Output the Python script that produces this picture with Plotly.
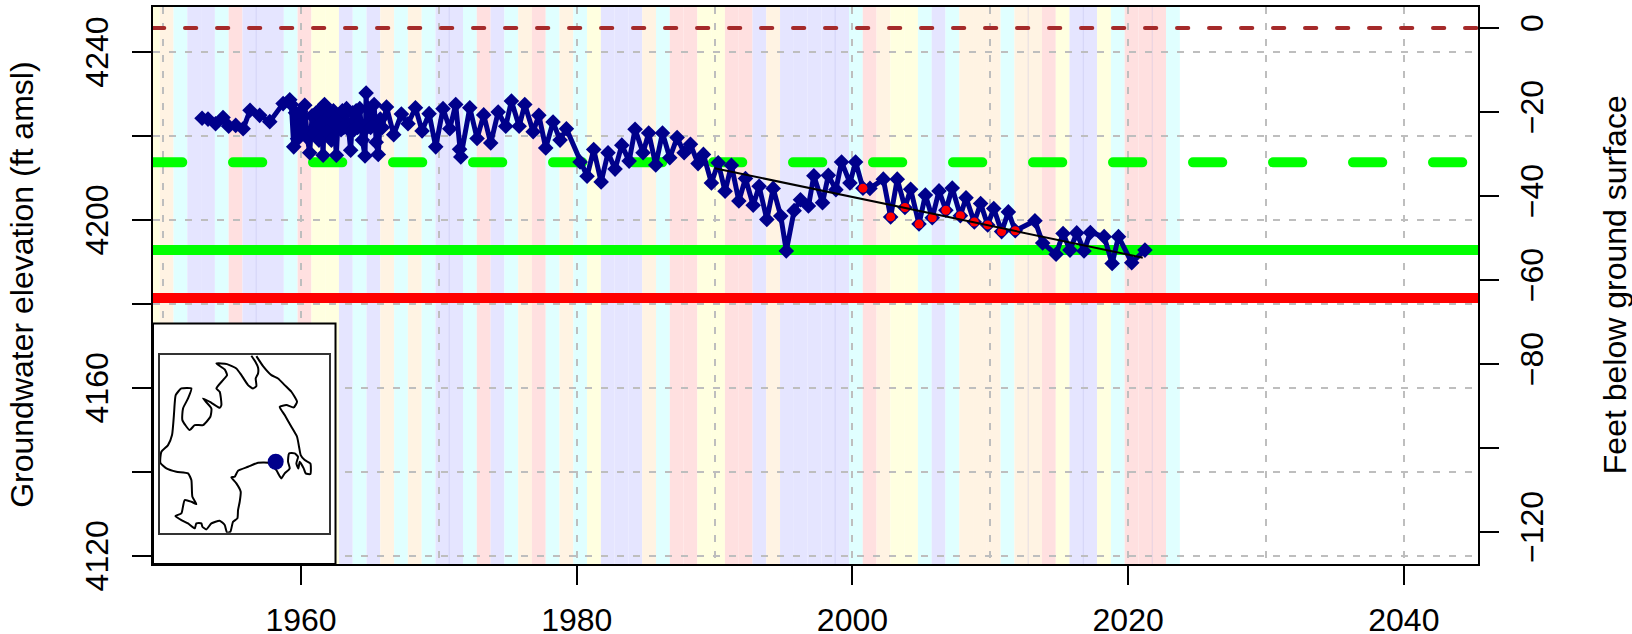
import plotly.graph_objects as go

obs_year = [1952.82,1953.25,1953.8,1954.34,1954.75,1955.26,1955.8,1956.3,1957.0,1957.73,1958.7,
 1959.18,1959.30,1959.47,1959.60,1959.75,1959.95,1960.10,1960.27,1960.45,1960.63,1960.80,1960.95,1961.10,1961.30,1961.45,1961.60,1961.70,1961.85,
 1962.0,1962.2,1962.35,1962.56,1962.7,1962.9,1963.0,1963.1,1963.3,1963.45,1963.6,1963.75,1963.85,1964.0,1964.1,1964.26,1964.45,1964.64,1964.72,1964.8,1964.9,1965.05,1965.3,1965.45,1965.6,1965.75,1965.9,1966.2,
 1966.72,1967.28,1967.76,1968.3,1968.78,1969.29,1969.77,1970.3,1970.79,1971.22,1971.5,1971.59,1972.24,1972.77,1973.25,1973.76,1974.3,1974.85,1975.26,1975.82,1976.23,1976.84,1977.25,1977.75,
 1978.28,1978.79,1979.25,1980.24,1980.75,1981.23,1981.77,1982.27,1982.78,1983.27,1983.8,1984.23,1984.81,1985.22,1985.73,1986.22,1986.75,1987.28,1987.79,1988.25,1988.8,1989.19,1989.77,
 1990.26,1990.76,1991.22,1991.76,1992.24,1992.8,1993.23,1993.79,1994.25,1994.8,1995.2,1995.77,1996.23,1996.81,1997.2,1997.83,1998.25,1998.8,1999.21,1999.82,
 2000.23,2000.76,2001.27,2002.24,2002.77,2003.25,2003.81,2004.22,2004.83,2005.29,2005.79,2006.28,2006.78,2007.24,2007.83,2008.24,2008.84,2009.3,2009.81,2010.25,2010.82,2011.31,2011.81,
 2013.24,2013.8,2014.77,2015.28,2015.78,2016.27,2016.8,2017.26,2018.26,2018.84,2019.3,2020.26,2021.22]
obs_elev = [4224.2,4224.0,4222.9,4224.4,4222.3,4222.5,4221.7,4226.1,4224.9,4223.4,4227.7,
 4228.6,4227.5,4217.4,4225.5,4219.3,4225.8,4221.5,4227.3,4219.6,4216.0,4224.8,4220.5,4225.5,4219.0,4226.5,4215.4,4227.5,4221.0,
 4226.0,4219.0,4226.0,4215.4,4224.5,4221.5,4226.0,4222.0,4226.5,4221.5,4216.6,4225.5,4221.5,4226.0,4222.0,4226.5,4219.0,4215.2,4230.2,4222.0,4226.5,4222.0,4227.5,4218.5,4215.6,4224.0,4222.0,4226.9,
 4220.3,4225.2,4222.9,4226.7,4221.2,4225.3,4217.4,4226.5,4221.7,4227.5,4216.8,4215.0,4226.7,4219.4,4225.0,4218.3,4225.7,4222.3,4228.3,4222.3,4227.5,4221.0,4224.9,4217.15,
 4223.3,4219.0,4221.7,4213.8,4210.4,4216.75,4209.05,4216.0,4212.1,4217.8,4214.0,4221.6,4216.0,4220.7,4213.1,4220.7,4214.8,4219.6,4216.0,4218.0,4213.4,4215.6,4208.8,
 4213.6,4206.8,4213.0,4204.5,4209.85,4203.5,4208.0,4200.1,4207.5,4200.9,4192.6,4202.2,4204.8,4203.3,4210.5,4204.1,4210.6,4207.2,4213.8,4208.8,
 4213.8,4207.55,4207.5,4209.7,4200.7,4209.7,4202.95,4207.3,4199.0,4205.9,4200.5,4206.9,4202.3,4207.6,4201.0,4205.25,4199.5,4203.9,4198.8,4202.7,4197.2,4201.9,4197.4,
 4199.8,4194.5,4191.8,4196.75,4192.8,4196.9,4192.6,4197.0,4196.0,4189.6,4196.0,4189.8,4192.8]

red_year = [2000.76,2002.77,2003.81,2004.83,2005.79,2006.78,2007.83,2008.84,2009.81,2010.82,2011.81]
red_elev = [4207.55,4200.7,4202.95,4199.0,4200.5,4202.3,4201.0,4199.5,4198.8,4197.2,4197.4]

trend_year = [1990.0,2021.06]
trend_elev = [4212.3,4191.0]

land_surface = 4245.71
level_dashed_green = 4213.7
level_solid_green = 4192.8
level_red = 4181.4

x_range = [1949.26,2045.38]
y_range = [4118.02,4250.71]
y2_range = [-127.69,5.0]

band_years = list(range(1949,2024))
band_classes = ["Y","C","W","L","L","W","P","L","L","L","W","P","Y","Y","L","W","L","C","W","C",
 "W","L","L","W","P","L","W","C","P","W","C","W","Y","L","L","L","C","W","P","P",
 "Y","Y","P","P","L","C","L","L","L","L","L","W","P","C","Y","Y","W","L","W","C",
 "C","C","W","C","C","P","Y","L","L","Y","W","P","P","P","W"]
band_colors = {"L":"#e5e5ff","W":"#e0ffff","C":"#fff3e3","P":"#ffe0e0","Y":"#ffffe0"}
seam_years = [1956.75,1970.75,1998.75,2012.75,2016.75,2021.75]

inset_x = [1949.26,1962.5,1962.5,1949.26,1949.26]
inset_y = [4118.02,4118.02,4175.3,4175.3,4118.02]

map_x = [350,370,395,415,435,455,472,462,440,420,435,455,472,478,483,495,512,512,498,492,480,476,470,475,465,448,445,450,435,425,418,410,385,355,325,295,285,275,290,303,300,295,293,280,272,262,255,240,215,200,188,185,170,165,145,125,107,125,135,155,170,158,155,145,110,80,62,65,85,97,103,105,108,125,155,145,130,128,150,165,190,212,215,190,215,240,245,240,230,250,262,255,230,262,290,305,325,340,350,348,355,355,347,335]
map_y = [228,258,285,295,315,335,365,382,375,380,405,440,470,500,525,540,550,582,580,565,545,565,550,530,520,520,545,565,580,595,585,570,548,548,560,572,590,592,610,635,665,690,715,725,755,758,735,722,730,748,740,730,730,745,730,720,708,700,660,665,672,650,600,580,575,565,548,515,495,465,400,370,345,325,325,355,385,420,450,435,435,410,385,355,368,383,375,335,325,300,285,268,250,252,265,285,315,325,318,295,280,262,245,227]
site_x = [408]
site_y = [545]

x_ticks = [1960,1980,2000,2020,2040]
x_grid = [1950,1970,1990,2010,2030]
y_ticks = [4120,4140,4160,4180,4200,4220,4240]
y_labelled = [4120,4160,4200,4240]
y2_ticks = [0,-20,-40,-60,-80,-100,-120]
y2_labels = ["0","\u221220","\u221240","\u221260","\u221280","","\u2212120"]

W,H = 1632,634
L,R,T,B = 153.3,1478.0,6.7,564.0
FONT = "Liberation Sans"
GRID = "rgb(190,190,190)"
NAVY = "#00008b"

fig = go.Figure()
shapes = []
for yr,c in zip(band_years,band_classes):
    x0 = max(yr-0.25,x_range[0])
    shapes.append(dict(type="rect",xref="x",yref="y domain",x0=x0,x1=yr+0.75,y0=0,y1=1,
                       fillcolor=band_colors[c],line_width=0,layer="below"))
for s in seam_years:
    shapes.append(dict(type="line",xref="x",yref="y domain",x0=s,x1=s,y0=0,y1=1,
                       line=dict(color="rgba(80,80,200,0.15)",width=1),layer="below"))

xx = x_range
fig.add_trace(go.Scatter(x=xx,y=[land_surface]*2,mode="lines",line=dict(color="#a52a2a",width=4,dash="11.3px,20.7px")))
fig.add_trace(go.Scatter(x=xx,y=[level_dashed_green]*2,mode="lines",line=dict(color="#00ff00",width=10,dash="29.3px,50.7px")))
fig.add_trace(go.Scatter(x=xx,y=[level_solid_green]*2,mode="lines",line=dict(color="#00ff00",width=10)))
fig.add_trace(go.Scatter(x=xx,y=[level_red]*2,mode="lines",line=dict(color="#ff0000",width=10)))
fig.add_trace(go.Scatter(x=inset_x,y=inset_y,mode="lines",fill="toself",fillcolor="white",line=dict(color="black",width=2)))
fig.add_trace(go.Scatter(x=obs_year,y=obs_elev,mode="lines+markers",line=dict(color=NAVY,width=5),
                         marker=dict(symbol="diamond",size=12,color=NAVY)))
fig.add_trace(go.Scatter(x=red_year,y=red_elev,mode="markers",marker=dict(symbol="circle",size=9,color="#ff0000")))
fig.add_trace(go.Scatter(x=trend_year,y=trend_elev,mode="lines",line=dict(color="black",width=2)))
# right-hand axis carrier
fig.add_trace(go.Scatter(x=xx,y=[0,0],yaxis="y2",mode="lines",line=dict(color="rgba(0,0,0,0)",width=0),hoverinfo="skip"))
# inset map
fig.add_trace(go.Scatter(x=map_x,y=map_y,xaxis="x3",yaxis="y3",mode="lines",line=dict(color="black",width=2,shape="spline",smoothing=0.5)))
fig.add_trace(go.Scatter(x=site_x,y=site_y,xaxis="x3",yaxis="y3",mode="markers",marker=dict(color=NAVY,size=16)))

tick = dict(family=FONT,size=32,color="black")
title = dict(family=FONT,size=32,color="black")
annotations = [
    dict(text="Groundwater elevation (ft amsl)",xref="paper",yref="paper",x=(22-L)/(R-L),y=(B-285)/(B-T),
         textangle=-90,showarrow=False,xanchor="center",yanchor="middle",font=title),
    dict(text="Feet below ground surface",xref="paper",yref="paper",x=(1615-L)/(R-L),y=(B-285)/(B-T),
         textangle=-90,showarrow=False,xanchor="center",yanchor="middle",font=title),
]
for v in y_labelled:
    annotations.append(dict(text=str(v),xref="paper",yref="y",x=(97-L)/(R-L),y=v,textangle=-90,showarrow=False,
                            xanchor="center",yanchor="middle",font=tick))

fig.update_layout(
    width=W,height=H,margin=dict(l=L,r=W-R,t=T,b=H-B,autoexpand=False),
    showlegend=False,paper_bgcolor="white",plot_bgcolor="white",shapes=shapes,
    font=dict(family=FONT,color="black"),
    xaxis=dict(range=x_range,tickmode="array",tickvals=x_ticks,ticktext=[str(v) for v in x_ticks],
        ticks="outside",ticklen=19,tickwidth=1.5,tickcolor="black",tickfont=tick,ticklabelstandoff=8,
        showline=True,linewidth=2,linecolor="black",mirror=True,zeroline=False,
        showgrid=True,gridcolor=GRID,griddash="7px,9px",gridwidth=1.5,
        minor=dict(tickmode="array",tickvals=x_grid,showgrid=True,gridcolor=GRID,griddash="7px,9px",gridwidth=1.5,ticks="")),
    yaxis=dict(range=y_range,tickmode="array",tickvals=y_ticks,showticklabels=False,
        ticks="outside",ticklen=19,tickwidth=1.5,tickcolor="black",
        showline=True,linewidth=2,linecolor="black",zeroline=False,
        showgrid=True,gridcolor=GRID,griddash="7px,9px",gridwidth=1.5),
    yaxis2=dict(range=y2_range,overlaying="y",side="right",tickmode="array",tickvals=y2_ticks,ticktext=y2_labels,tickangle=-90,
        ticks="outside",ticklen=19,tickwidth=1.5,tickcolor="black",tickfont=tick,ticklabelstandoff=6,
        showline=True,linewidth=2,linecolor="black",zeroline=False,showgrid=False),
    xaxis3=dict(domain=[(160-L)/(R-L),(329.3-L)/(R-L)],range=[60,568],anchor="y3",showticklabels=False,ticks="",
        showgrid=False,zeroline=False,showline=True,linewidth=1.5,linecolor="#333333",mirror=True),
    yaxis3=dict(domain=[(B-532.7)/(B-T),(B-355)/(B-T)],range=[758,225],anchor="x3",showticklabels=False,ticks="",
        showgrid=False,zeroline=False,showline=True,linewidth=1.5,linecolor="#333333",mirror=True),
    annotations=annotations,
)

post = """
document.body.style.margin='0';
document.querySelectorAll('.scatterlayer path.js-line').forEach(function(p){
  if(p.style.strokeDasharray && p.style.strokeDasharray!=='none'){p.style.strokeLinecap='round';}
});
"""
fig.write_html("out.html",post_script=post,config={"displayModeBar":False})
